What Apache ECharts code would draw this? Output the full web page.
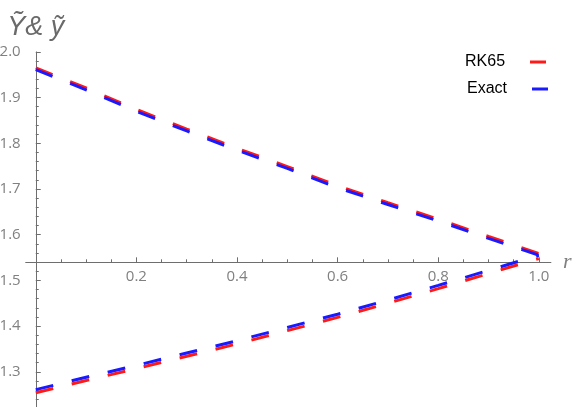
<!DOCTYPE html>
<html>
<head>
<meta charset="utf-8">
<script src="https://cdn.jsdelivr.net/npm/echarts@6/dist/echarts.min.js"></script>
<style>
html,body{margin:0;padding:0;background:#fff;}
#chart{width:576px;height:407px;}
</style>
</head>
<body>
<div id="chart"></div>
<script>
// ---- data ----
const rValues = [0, 0.1, 0.2, 0.3, 0.4, 0.5, 0.6, 0.7, 0.8, 0.9, 1.0];
const rk65Upper  = [1.965, 1.921, 1.874, 1.831, 1.789, 1.749, 1.707, 1.670, 1.634, 1.596, 1.559];
const exactUpper = [1.961, 1.917, 1.870, 1.827, 1.785, 1.745, 1.703, 1.666, 1.630, 1.592, 1.555];
const rk65Lower  = [1.254, 1.281, 1.307, 1.334, 1.361, 1.390, 1.419, 1.450, 1.482, 1.515, 1.548];
const exactLower = [1.261, 1.288, 1.314, 1.341, 1.368, 1.397, 1.426, 1.457, 1.489, 1.522, 1.555];
const xTickValues = [0.2, 0.4, 0.6, 0.8, 1.0];
const xMinorTickValues = [0.05, 0.1, 0.15, 0.25, 0.3, 0.35, 0.45, 0.5, 0.55, 0.65, 0.7, 0.75, 0.85, 0.9, 0.95];
const seriesNames = ['RK65', 'Exact'];
const yAxisTitle = 'Ỹ& ỹ';
const xAxisTitle = 'r';

const RED = '#ff1a1a', BLUE = '#1a1aff';
const AXIS = '#6e6e6e', LABEL = '#808080';
const pairs = arr => rValues.map((x, i) => [x, arr[i]]);
const dash = [18, 19];

function lineSeries(name, color, arr) {
  return {
    type: 'line', name: name, data: pairs(arr), symbol: 'none', color: color,
    lineStyle: { color: color, width: 3, type: dash, cap: 'butt' },
    silent: true, animation: false
  };
}

const chart = echarts.init(document.getElementById('chart'), null, { renderer: 'canvas' });
chart.setOption({
  animation: false,
  backgroundColor: '#ffffff',
  grid: { left: 25.7, top: 51.9, width: 525.2, height: 365.6, containLabel: false, outerBoundsMode: 'none' },
  xAxis: [{
    type: 'value', min: -0.02, max: 1.024, position: 'bottom', offset: -155.2,
    name: xAxisTitle, nameLocation: 'end', nameGap: 12,
    nameTextStyle: { fontFamily: 'Liberation Serif', fontStyle: 'italic', fontSize: 22, color: LABEL, verticalAlign: 'middle' },
    axisLine: { show: true, onZero: false, lineStyle: { color: AXIS, width: 1 } },
    axisTick: { show: true, inside: true, length: 5, customValues: xTickValues, lineStyle: { color: AXIS } },
    axisLabel: { show: true, customValues: xTickValues, margin: 7, color: LABEL, fontFamily: 'Open Sans', fontSize: 15,
                 formatter: v => v.toFixed(1) },
    splitLine: { show: false }
  }, {
    type: 'value', min: -0.02, max: 1.024, position: 'bottom', offset: -155.2,
    axisLine: { show: false, onZero: false },
    axisTick: { show: true, inside: true, length: 3, customValues: xMinorTickValues, lineStyle: { color: AXIS } },
    axisLabel: { show: false },
    splitLine: { show: false }
  }],
  yAxis: {
    type: 'value', min: 1.2, max: 2.0, interval: 0.1,
    name: yAxisTitle, nameLocation: 'end', nameGap: 11,
    nameTextStyle: { fontFamily: 'Liberation Sans', fontStyle: 'italic', fontSize: 27, color: '#6a6a6a', align: 'center' },
    axisLine: { show: true, onZero: true, onZeroAxisIndex: 0, lineStyle: { color: AXIS, width: 1 } },
    axisTick: { show: true, inside: true, length: 5, lineStyle: { color: AXIS } },
    minorTick: { show: true, splitNumber: 5, length: 3, lineStyle: { color: AXIS } },
    axisLabel: { show: true, margin: 5, color: LABEL, fontFamily: 'Open Sans', fontSize: 15,
                 formatter: v => v.toFixed(1) },
    splitLine: { show: false }
  },
  legend: [{
    data: [seriesNames[0]], left: 465, top: 54, orient: 'vertical', align: 'right', padding: 0,
    icon: 'rect', itemWidth: 16, itemHeight: 3,
    textStyle: { fontFamily: 'Liberation Sans', fontSize: 16, color: '#000', padding: [6, 20, 0, 0] }
  }, {
    data: [seriesNames[1]], left: 467, top: 81, orient: 'vertical', align: 'right', padding: 0,
    icon: 'rect', itemWidth: 16, itemHeight: 3,
    textStyle: { fontFamily: 'Liberation Sans', fontSize: 16, color: '#000', padding: [0, 20, 6, 0] }
  }],
  series: [
    lineSeries(seriesNames[0], RED, rk65Upper),
    lineSeries(seriesNames[0], RED, rk65Lower),
    lineSeries(seriesNames[1], BLUE, exactUpper),
    lineSeries(seriesNames[1], BLUE, exactLower)
  ]
});
</script>
</body>
</html>
